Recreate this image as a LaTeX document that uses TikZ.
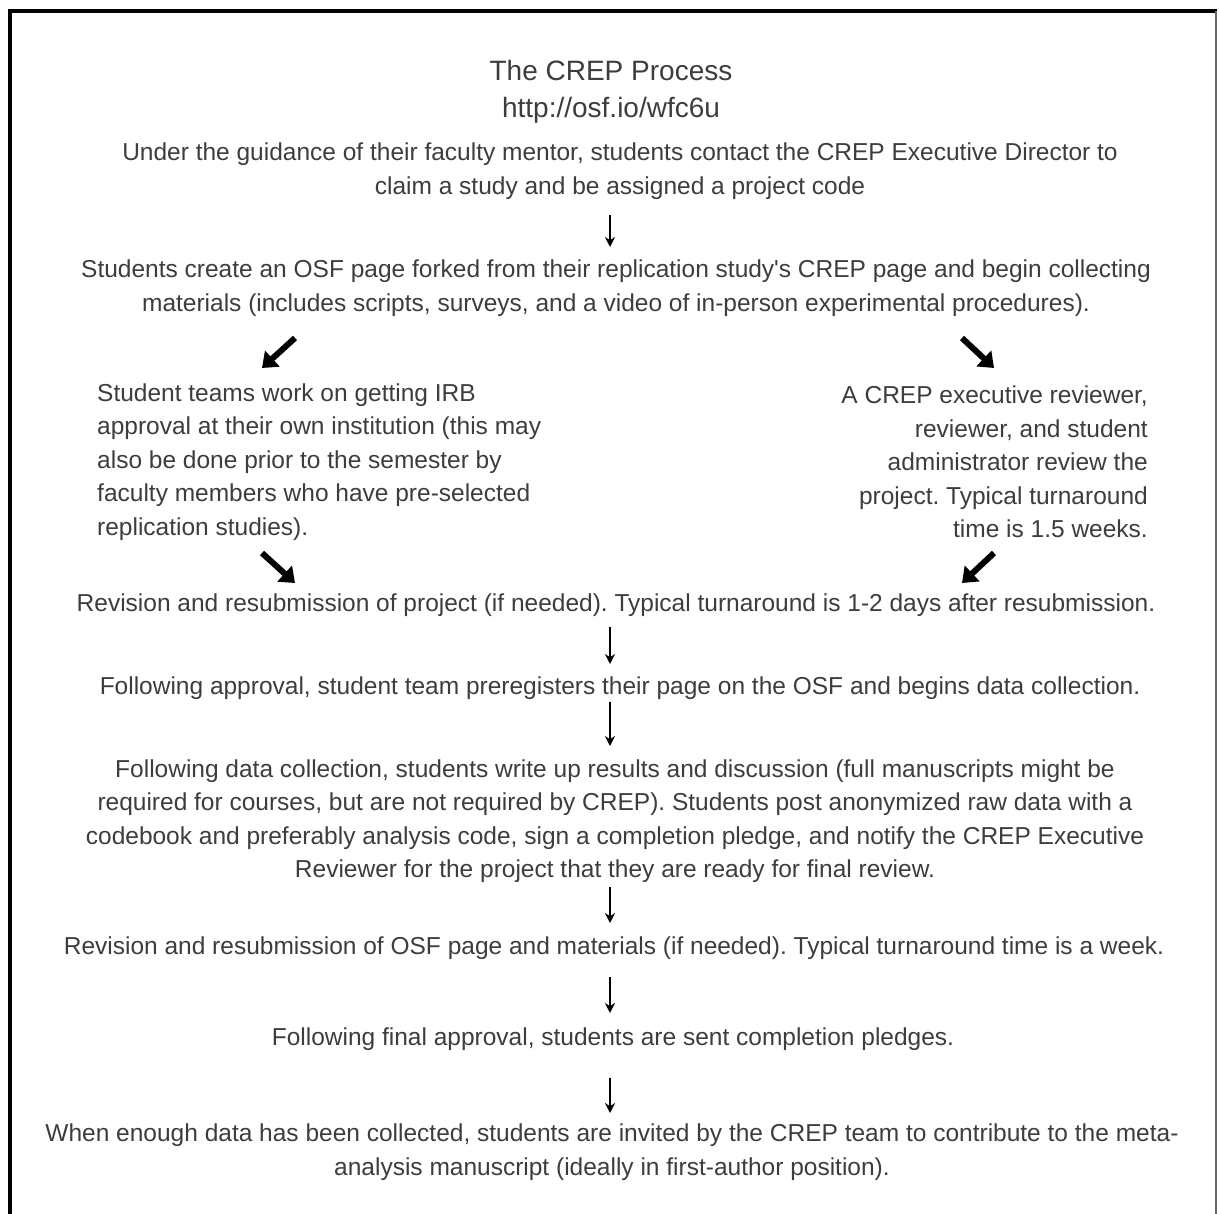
\documentclass[tikz,border=0pt]{standalone}
\usepackage{fontspec}
\setmainfont{Liberation Sans}
\usetikzlibrary{arrows.meta,calc}
\frenchspacing

\begin{document}
\begin{tikzpicture}[
  x=1pt, y=-1pt,
  every node/.style={text=black!76, font=\fontsize{24.5}{33.5}\selectfont, inner sep=0pt},
  headtext/.style={font=\fontsize{28}{34}\selectfont},
  steptext/.style={align=center},
  sidetext/.style={align=left},
  thinarrow/.style={draw, line width=2.2pt, -{Stealth[length=10pt, width=10pt]}},
  bigarrow/.style={draw, line width=6pt, -{Triangle[length=14pt, width=21pt]}}
]
\useasboundingbox (0,0) rectangle (1219,1214);
\fill[white] (0,0) rectangle (1219,1214);
\draw[line width=4pt] (10,1214) -- (10,11) -- (1217,11);
\draw[black!60, line width=1.5pt] (1216,11) -- (1216,1214);

\node[headtext] (title) at (611,70) {The CREP Process};
\node[headtext] (url) at (611,110) {http://osf.io/wfc6u};
\node[steptext] (claim) at (620,171) {Under the guidance of their faculty mentor, students contact the CREP Executive Director to\\claim a study and be assigned a project code};
\node[steptext] (fork) at (616,288) {Students create an OSF page forked from their replication study\textquotesingle s CREP page and begin collecting\\materials (includes scripts, surveys, and a video of in-person experimental procedures).};
\node[sidetext, anchor=west] (irb) at (97,462) {Student teams work on getting IRB\\approval at their own institution (this may\\also be done prior to the semester by\\faculty members who have pre-selected\\replication studies).};
\node[align=right, anchor=east] (review) at (1148,462) {A CREP executive reviewer,\\reviewer, and student\\administrator review the\\project. Typical turnaround\\time is 1.5 weeks.};
\node (revise) at (616,605) {Revision and resubmission of project (if needed). Typical turnaround is 1-2 days after resubmission.};
\node (prereg) at (620,688) {Following approval, student team preregisters their page on the OSF and begins data collection.};
\node[steptext] (writeup) at (615,821) {Following data collection, students write up results and discussion (full manuscripts might be\\required for courses, but are not required by CREP). Students post anonymized raw data with a\\codebook and preferably analysis code, sign a completion pledge, and notify the CREP Executive\\Reviewer for the project that they are ready for final review.};
\node (resub) at (614,948) {Revision and resubmission of OSF page and materials (if needed). Typical turnaround time is a week.};
\node (final) at (613,1039) {Following final approval, students are sent completion pledges.};
\node[steptext] (meta) at (612,1152) {When enough data has been collected, students are invited by the CREP team to contribute to the meta-\\analysis manuscript (ideally in first-author position).};

% arrow columns
\coordinate (mid) at (610,0);
\coordinate (lout) at (295,0);
\coordinate (lin) at (262,0);
\coordinate (rout) at (962,0);
\coordinate (rin) at (994,0);

\draw[thinarrow] ($(claim -| mid)+(0,44)$) -- ($(fork -| mid)+(0,-41)$);
\draw[bigarrow] ($(fork -| lout)+(0,50)$) -- ($(irb -| lin)+(0,-94)$);
\draw[bigarrow] ($(fork -| rout)+(0,50)$) -- ($(review -| rin)+(0,-94)$);
\draw[bigarrow] ($(irb -| lin)+(0,91)$) -- ($(revise -| lout)+(0,-22)$);
\draw[bigarrow] ($(review -| rin)+(0,91)$) -- ($(revise -| rout)+(0,-22)$);
\draw[thinarrow] ($(revise -| mid)+(0,22)$) -- ($(prereg -| mid)+(0,-24)$);
\draw[thinarrow] ($(prereg -| mid)+(0,14)$) -- ($(writeup -| mid)+(0,-75)$);
\draw[thinarrow] ($(writeup -| mid)+(0,66)$) -- ($(resub -| mid)+(0,-25)$);
\draw[thinarrow] ($(resub -| mid)+(0,29)$) -- ($(final -| mid)+(0,-26)$);
\draw[thinarrow] ($(final -| mid)+(0,39)$) -- ($(meta -| mid)+(0,-39)$);
\end{tikzpicture}
\end{document}
